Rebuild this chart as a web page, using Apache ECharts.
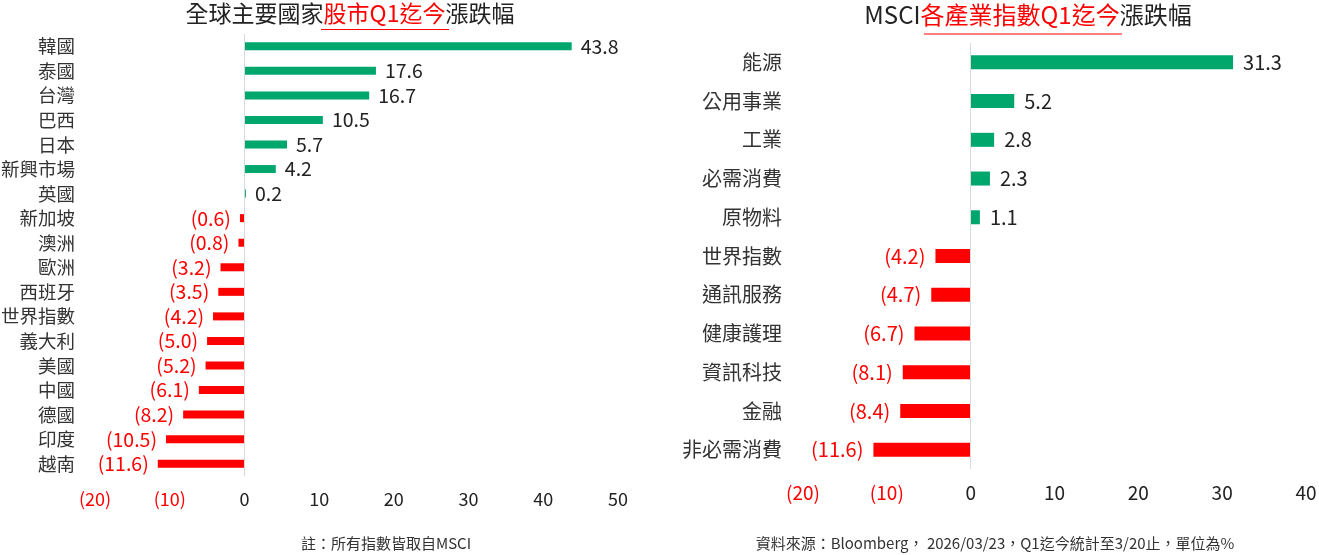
<!DOCTYPE html>
<html>
<head>
<meta charset="utf-8">
<script src="https://cdn.jsdelivr.net/npm/echarts@6/dist/echarts.min.js"></script>
<style>
  html, body { margin: 0; padding: 0; background: #fff; }
  #main { width: 1319px; height: 555px; }
</style>
</head>
<body>
<div id="main"></div>
<script>
// 左圖：各國股市 Q1 迄今漲跌幅 (%)
const countryNames = ['韓國', '泰國', '台灣', '巴西', '日本', '新興市場', '英國', '新加坡', '澳洲', '歐洲',
  '西班牙', '世界指數', '義大利', '美國', '中國', '德國', '印度', '越南'];
const countryValues = [43.8, 17.6, 16.7, 10.5, 5.7, 4.2, 0.2, -0.6, -0.8, -3.2,
  -3.5, -4.2, -5.0, -5.2, -6.1, -8.2, -10.5, -11.6];

// 右圖：MSCI 各產業指數 Q1 迄今漲跌幅 (%)
const sectorNames = ['能源', '公用事業', '工業', '必需消費', '原物料', '世界指數', '通訊服務',
  '健康護理', '資訊科技', '金融', '非必需消費'];
const sectorValues = [31.3, 5.2, 2.8, 2.3, 1.1, -4.2, -4.7, -6.7, -8.1, -8.4, -11.6];

const GREEN = '#00a76d';
const RED = '#ff0000';
const FONT = '"Noto Sans CJK TC", "Noto Sans", sans-serif';

// 負值以括號表示
function fmtNum(v) {
  return v < 0 ? '(' + Math.abs(v).toFixed(1) + ')' : v.toFixed(1);
}

function barData(values, fontSize, dist) {
  return values.map(v => ({
    value: v,
    itemStyle: { color: v < 0 ? RED : GREEN },
    label: {
      show: true,
      position: v < 0 ? 'left' : 'right',
      distance: dist,
      color: v < 0 ? RED : '#222',
      fontSize: fontSize,
      fontFamily: FONT,
      formatter: p => fmtNum(p.value)
    }
  }));
}

function valueAxis(gridIndex, min, max, fontSize) {
  return {
    type: 'value',
    gridIndex: gridIndex,
    min: min,
    max: max,
    interval: 10,
    axisLine: { show: false },
    axisTick: { show: false },
    splitLine: { show: false },
    axisLabel: {
      margin: 14,
      fontSize: fontSize,
      fontFamily: FONT,
      color: v => (v < 0 ? RED : '#222'),
      formatter: v => (v < 0 ? '(' + Math.abs(v) + ')' : String(v))
    }
  };
}

function categoryAxis(gridIndex, names, fontSize, margin) {
  return {
    type: 'category',
    gridIndex: gridIndex,
    data: names,
    inverse: true,
    axisLine: { show: false },
    axisTick: { show: false },
    axisLabel: {
      margin: margin,
      fontSize: fontSize,
      fontFamily: FONT,
      color: '#333'
    }
  };
}

const zeroLine = {
  silent: true,
  symbol: 'none',
  label: { show: false },
  lineStyle: { color: '#d9d9d9', type: 'solid', width: 1 },
  data: [{ xAxis: 0 }]
};

const chart = echarts.init(document.getElementById('main'));

const option = {
  backgroundColor: '#fff',
  animation: false,
  grid: [
    { left: 95, width: 523, top: 34, height: 442, outerBoundsMode: 'none' },
    { left: 803, width: 503, top: 43, height: 426, outerBoundsMode: 'none' }
  ],
  xAxis: [
    valueAxis(0, -20, 50, 18),
    valueAxis(1, -20, 40, 19)
  ],
  yAxis: [
    categoryAxis(0, countryNames, 18.5, 20),
    categoryAxis(1, sectorNames, 20, 21)
  ],
  series: [
    {
      type: 'bar',
      xAxisIndex: 0,
      yAxisIndex: 0,
      barWidth: 8,
      data: barData(countryValues, 19.5, 9),
      markLine: zeroLine
    },
    {
      type: 'bar',
      xAxisIndex: 1,
      yAxisIndex: 1,
      barWidth: 14,
      data: barData(sectorValues, 20, 10),
      markLine: zeroLine
    }
  ],
  graphic: [
    {
      type: 'text',
      x: 350, y: 13,
      style: {
        text: '{b|全球主要國家}{r|股市Q1迄今}{b|漲跌幅}',
        align: 'center',
        verticalAlign: 'middle',
        rich: {
          b: { fontSize: 23, fontFamily: FONT, fill: '#222' },
          r: { fontSize: 23, fontFamily: FONT, fill: RED }
        }
      }
    },
    {
      type: 'line',
      shape: { x1: 321, y1: 29.5, x2: 449, y2: 29.5 },
      style: { stroke: RED, lineWidth: 1 }
    },
    {
      type: 'text',
      x: 1028, y: 15,
      style: {
        text: '{b|MSCI}{r|各產業指數Q1迄今}{b|漲跌幅}',
        align: 'center',
        verticalAlign: 'middle',
        rich: {
          b: { fontSize: 24, fontFamily: FONT, fill: '#222' },
          r: { fontSize: 24, fontFamily: FONT, fill: RED }
        }
      }
    },
    {
      type: 'line',
      shape: { x1: 924, y1: 34, x2: 1122, y2: 34 },
      style: { stroke: RED, lineWidth: 1 }
    },
    {
      type: 'text',
      x: 386, y: 543,
      style: {
        text: '註：所有指數皆取自MSCI',
        align: 'center',
        verticalAlign: 'middle',
        fontSize: 15,
        fontFamily: FONT,
        fill: '#333'
      }
    },
    {
      type: 'text',
      x: 995, y: 543,
      style: {
        text: '資料來源：Bloomberg， 2026/03/23，Q1迄今統計至3/20止，單位為%',
        align: 'center',
        verticalAlign: 'middle',
        fontSize: 15,
        fontFamily: FONT,
        fill: '#333'
      }
    }
  ]
};

chart.setOption(option);
</script>
</body>
</html>
